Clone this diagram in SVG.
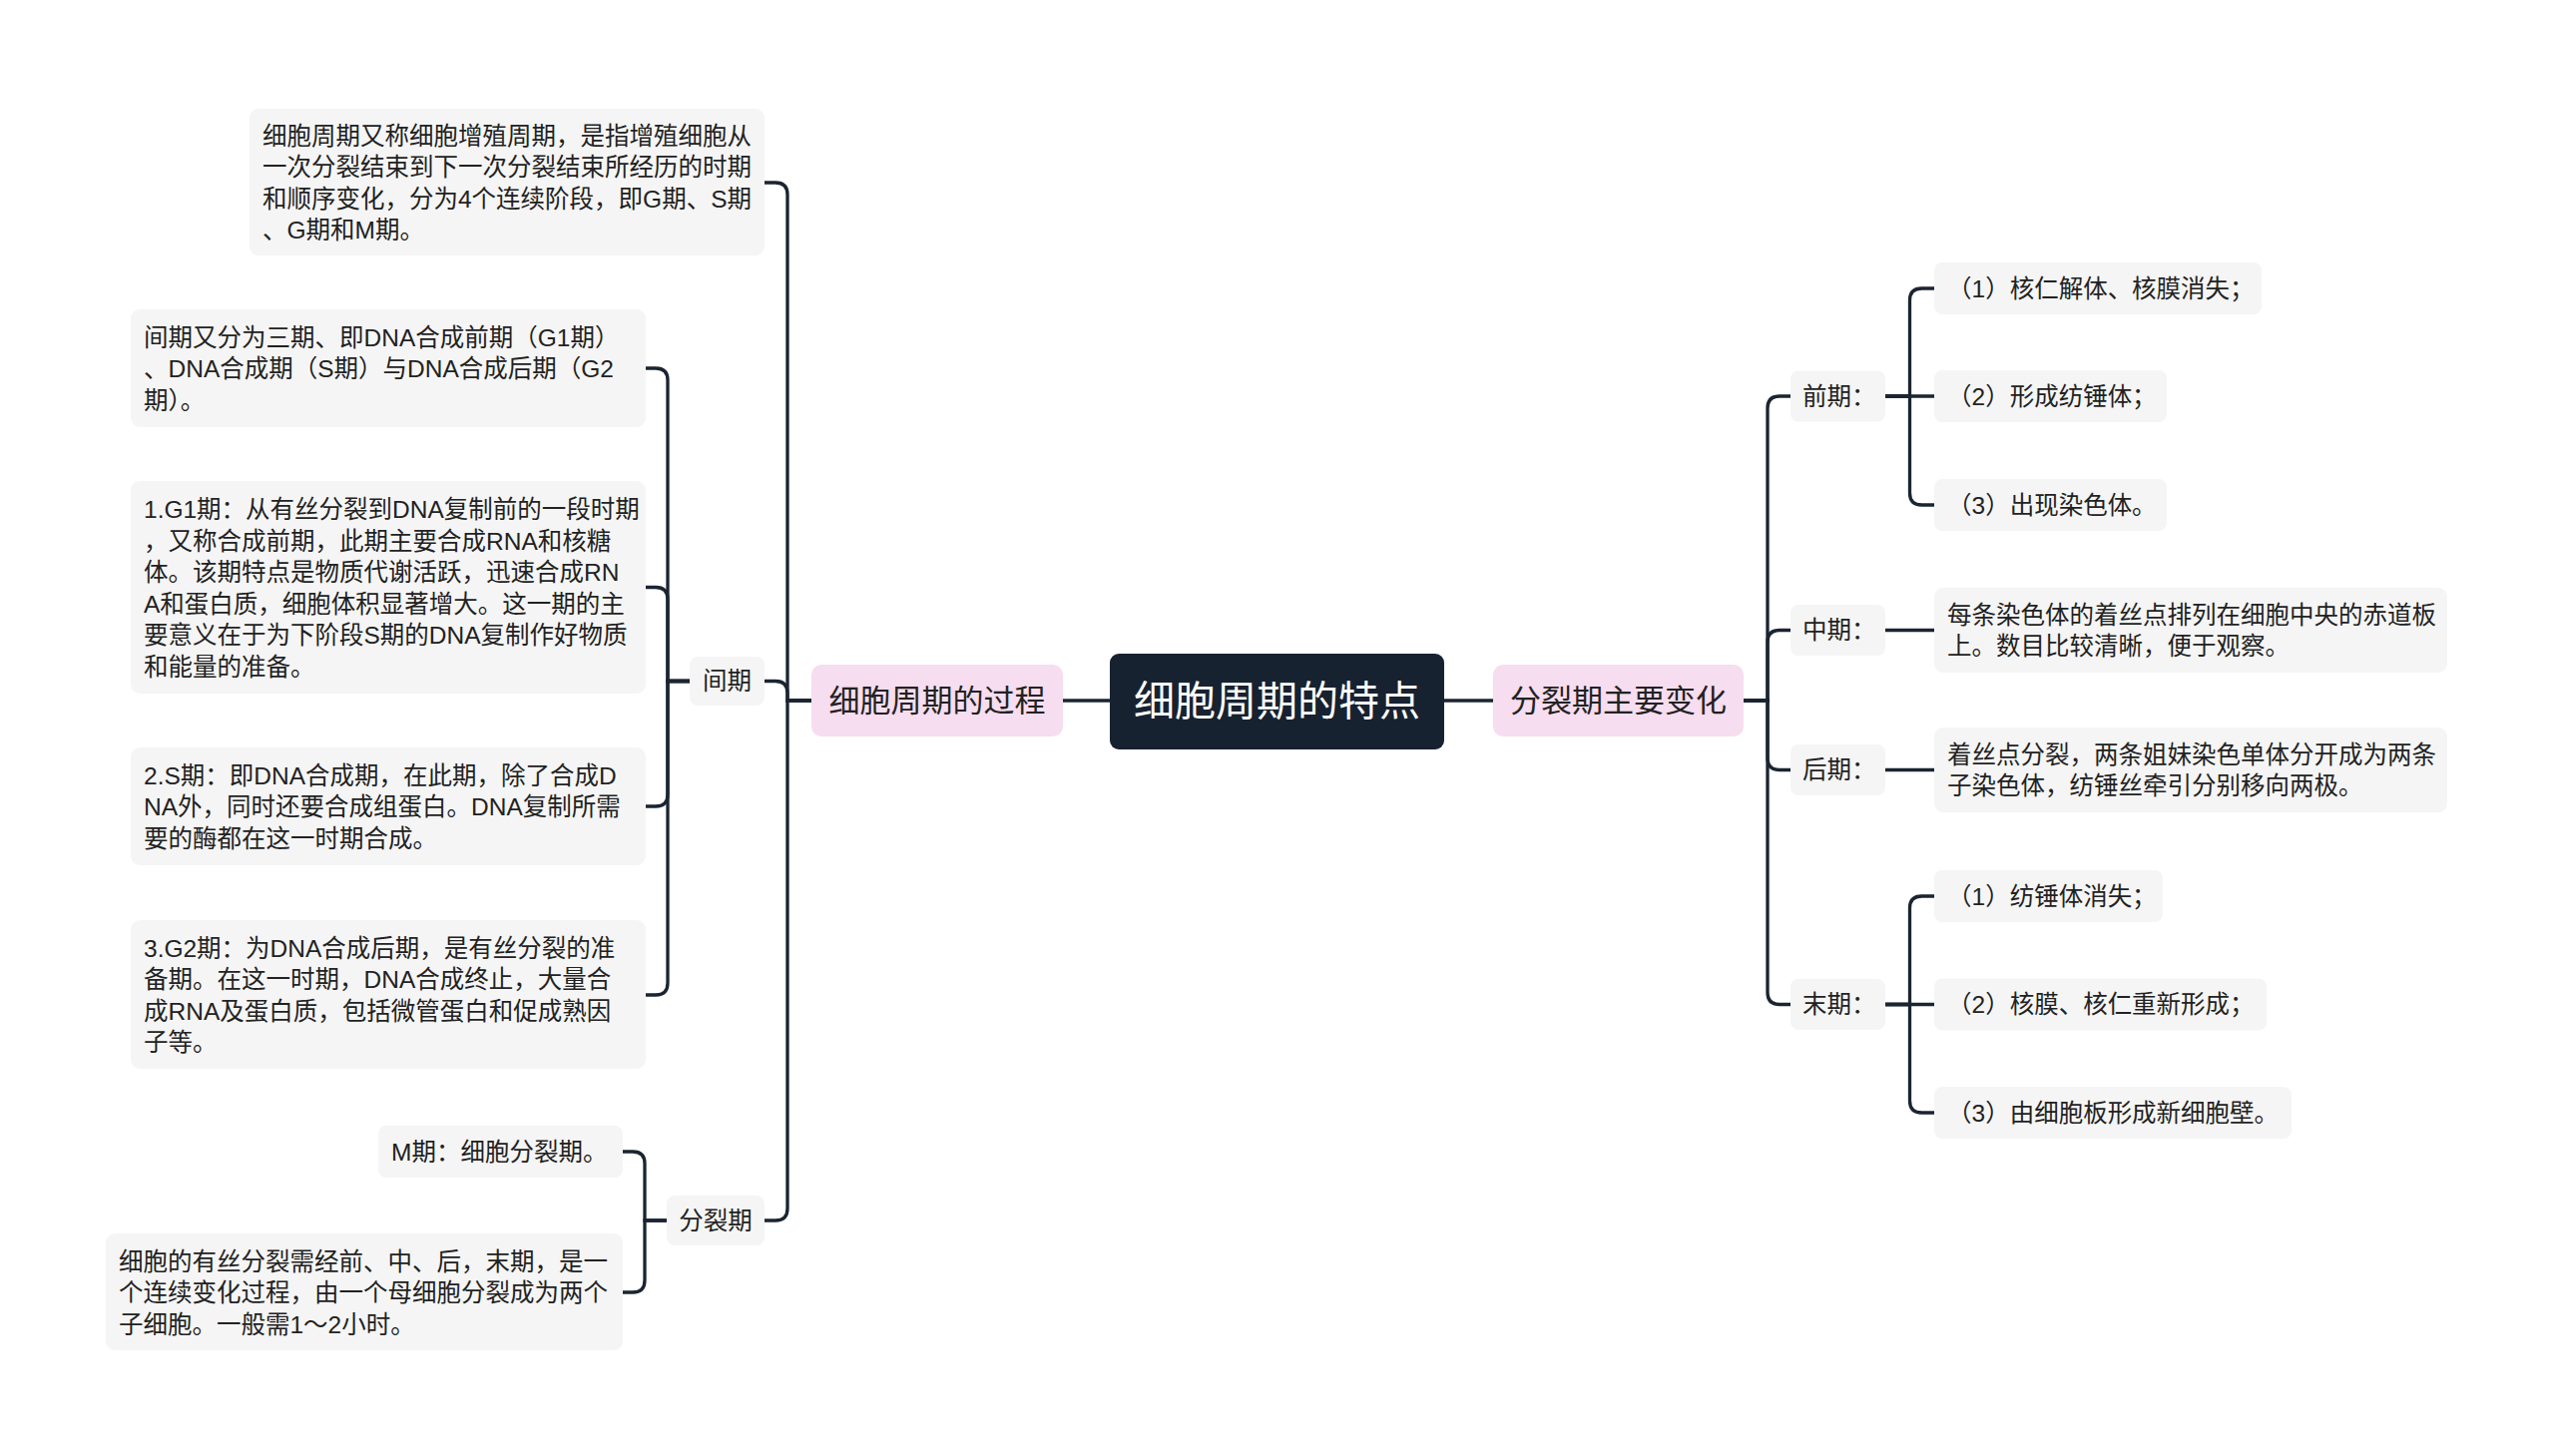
<svg xmlns="http://www.w3.org/2000/svg" width="2560" height="1459" viewBox="0 0 2560 1459">
<style>
text{font-family:"Liberation Sans","Noto Sans CJK SC",sans-serif;fill:#222;dominant-baseline:central}
.leaf{fill:#f5f5f5}
.t{font-size:24.5px}
.l1{fill:#f6ddef}
.l1t{font-size:31px;text-anchor:middle}
.c{text-anchor:middle}
.conn path{fill:none;stroke:#1b2431;stroke-width:3.3;stroke-linecap:round}
</style>
<rect width="2560" height="1459" fill="#ffffff"/>
<g class="conn" id="connectors">
<path d="M1112 702 H1065"/>
<path d="M1447 702 H1496"/>
<path d="M813 702 H789 V195 Q789 183 777 183 H766"/>
<path d="M813 702 H789 V694.5 Q789 682.5 777 682.5 H766"/>
<path d="M813 702 H789 V1211 Q789 1223 777 1223 H766"/>
<path d="M691 682.5 H669 V381 Q669 369 657 369 H647"/>
<path d="M691 682.5 H669 V600.5 Q669 588.5 657 588.5 H647"/>
<path d="M691 682.5 H669 V796 Q669 808 657 808 H647"/>
<path d="M691 682.5 H669 V985 Q669 997 657 997 H647"/>
<path d="M668 1223 H646 V1166 Q646 1154 634 1154 H624"/>
<path d="M668 1223 H646 V1283 Q646 1295 634 1295 H624"/>
<path d="M1747 702 H1771 V409 Q1771 397 1783 397 H1794"/>
<path d="M1747 702 H1771 V643.5 Q1771 631.5 1783 631.5 H1794"/>
<path d="M1747 702 H1771 V759.5 Q1771 771.5 1783 771.5 H1794"/>
<path d="M1747 702 H1771 V994.5 Q1771 1006.5 1783 1006.5 H1794"/>
<path d="M1889 397 H1913.5 V301 Q1913.5 289 1925.5 289 H1938"/>
<path d="M1889 397 H1938"/>
<path d="M1889 397 H1913.5 V494 Q1913.5 506 1925.5 506 H1938"/>
<path d="M1889 631.5 H1938"/>
<path d="M1889 771.5 H1938"/>
<path d="M1889 1006.5 H1913.5 V910 Q1913.5 898 1925.5 898 H1938"/>
<path d="M1889 1006.5 H1938"/>
<path d="M1889 1006.5 H1913.5 V1103 Q1913.5 1115 1925.5 1115 H1938"/>
</g>
<g id="root">
<rect x="1112" y="655" width="335" height="96" rx="9" fill="#172231"/>
<text x="1279.5" y="703" class="c" style="font-size:41px;fill:#ffffff">细胞周期的特点</text>
</g>
<g id="process">
<rect class="l1" x="813" y="666" width="252" height="72" rx="10"/>
<text class="l1t" x="939" y="702">细胞周期的过程</text>
</g>
<g id="mitosis-changes">
<rect class="l1" x="1496" y="666" width="251" height="72" rx="10"/>
<text class="l1t" x="1621.5" y="702">分裂期主要变化</text>
</g>
<g id="def">
<rect class="leaf" x="250" y="109" width="516" height="147" rx="9"/>
<text class="t"><tspan x="263" y="135.5">细胞周期又称细胞增殖周期，是指增殖细胞从</tspan><tspan x="263" y="167">一次分裂结束到下一次分裂结束所经历的时期</tspan><tspan x="263" y="198.5">和顺序变化，分为4个连续阶段，即G期、S期</tspan><tspan x="263" y="230">、G期和M期。</tspan></text>
</g>
<g id="interphase">
<rect class="leaf" x="691" y="658" width="75" height="49" rx="8"/>
<text class="t c" x="728.5" y="682.5">间期</text>
</g>
<g id="interphase-1">
<rect class="leaf" x="131" y="310" width="516" height="118" rx="9"/>
<text class="t"><tspan x="144" y="337.5">间期又分为三期、即DNA合成前期（G1期）</tspan><tspan x="144" y="369">、DNA合成期（S期）与DNA合成后期（G2</tspan><tspan x="144" y="400.5">期）。</tspan></text>
</g>
<g id="interphase-g1">
<rect class="leaf" x="131" y="482" width="516" height="213" rx="9"/>
<text class="t"><tspan x="144" y="510">1.G1期：从有丝分裂到DNA复制前的一段时期</tspan><tspan x="144" y="541.5">，又称合成前期，此期主要合成RNA和核糖</tspan><tspan x="144" y="573">体。该期特点是物质代谢活跃，迅速合成RN</tspan><tspan x="144" y="604.5">A和蛋白质，细胞体积显著增大。这一期的主</tspan><tspan x="144" y="636">要意义在于为下阶段S期的DNA复制作好物质</tspan><tspan x="144" y="667.5">和能量的准备。</tspan></text>
</g>
<g id="interphase-s">
<rect class="leaf" x="131" y="749" width="516" height="118" rx="9"/>
<text class="t"><tspan x="144" y="776.5">2.S期：即DNA合成期，在此期，除了合成D</tspan><tspan x="144" y="808">NA外，同时还要合成组蛋白。DNA复制所需</tspan><tspan x="144" y="839.5">要的酶都在这一时期合成。</tspan></text>
</g>
<g id="interphase-g2">
<rect class="leaf" x="131" y="922" width="516" height="149" rx="9"/>
<text class="t"><tspan x="144" y="949.5">3.G2期：为DNA合成后期，是有丝分裂的准</tspan><tspan x="144" y="981">备期。在这一时期，DNA合成终止，大量合</tspan><tspan x="144" y="1012.5">成RNA及蛋白质，包括微管蛋白和促成熟因</tspan><tspan x="144" y="1044">子等。</tspan></text>
</g>
<g id="m-phase">
<rect class="leaf" x="668" y="1198" width="98" height="50" rx="8"/>
<text class="t c" x="717" y="1223">分裂期</text>
</g>
<g id="m-phase-1">
<rect class="leaf" x="379" y="1128" width="245" height="52" rx="8"/>
<text class="t" x="392" y="1154">M期：细胞分裂期。</text>
</g>
<g id="m-phase-2">
<rect class="leaf" x="106" y="1236" width="518" height="117" rx="9"/>
<text class="t"><tspan x="119" y="1263.5">细胞的有丝分裂需经前、中、后，末期，是一</tspan><tspan x="119" y="1295">个连续变化过程，由一个母细胞分裂成为两个</tspan><tspan x="119" y="1326.5">子细胞。一般需1～2小时。</tspan></text>
</g>
<g id="prophase">
<rect class="leaf" x="1794" y="371.5" width="95" height="51" rx="8"/>
<text class="t" x="1806" y="397">前期：</text>
</g>
<g id="prophase-1">
<rect class="leaf" x="1938" y="263" width="328" height="52" rx="8"/>
<text class="t" x="1951" y="289">（1）核仁解体、核膜消失；</text>
</g>
<g id="prophase-2">
<rect class="leaf" x="1938" y="371" width="233" height="52" rx="8"/>
<text class="t" x="1951" y="397">（2）形成纺锤体；</text>
</g>
<g id="prophase-3">
<rect class="leaf" x="1938" y="480" width="233" height="52" rx="8"/>
<text class="t" x="1951" y="506">（3）出现染色体。</text>
</g>
<g id="metaphase">
<rect class="leaf" x="1794" y="606" width="95" height="51" rx="8"/>
<text class="t" x="1806" y="631.5">中期：</text>
</g>
<g id="metaphase-1">
<rect class="leaf" x="1938" y="589" width="514" height="85" rx="9"/>
<text class="t"><tspan x="1951" y="615.75">每条染色体的着丝点排列在细胞中央的赤道板</tspan><tspan x="1951" y="647.25">上。数目比较清晰，便于观察。</tspan></text>
</g>
<g id="anaphase">
<rect class="leaf" x="1794" y="746" width="95" height="51" rx="8"/>
<text class="t" x="1806" y="771.5">后期：</text>
</g>
<g id="anaphase-1">
<rect class="leaf" x="1938" y="729" width="514" height="85" rx="9"/>
<text class="t"><tspan x="1951" y="755.75">着丝点分裂，两条姐妹染色单体分开成为两条</tspan><tspan x="1951" y="787.25">子染色体，纺锤丝牵引分别移向两极。</tspan></text>
</g>
<g id="telophase">
<rect class="leaf" x="1794" y="981" width="95" height="51" rx="8"/>
<text class="t" x="1806" y="1006.5">末期：</text>
</g>
<g id="telophase-1">
<rect class="leaf" x="1938" y="872" width="229" height="52" rx="8"/>
<text class="t" x="1951" y="898">（1）纺锤体消失；</text>
</g>
<g id="telophase-2">
<rect class="leaf" x="1938" y="980.5" width="333" height="52" rx="8"/>
<text class="t" x="1951" y="1006.5">（2）核膜、核仁重新形成；</text>
</g>
<g id="telophase-3">
<rect class="leaf" x="1938" y="1089" width="358" height="52" rx="8"/>
<text class="t" x="1951" y="1115">（3）由细胞板形成新细胞壁。</text>
</g>
</svg>
